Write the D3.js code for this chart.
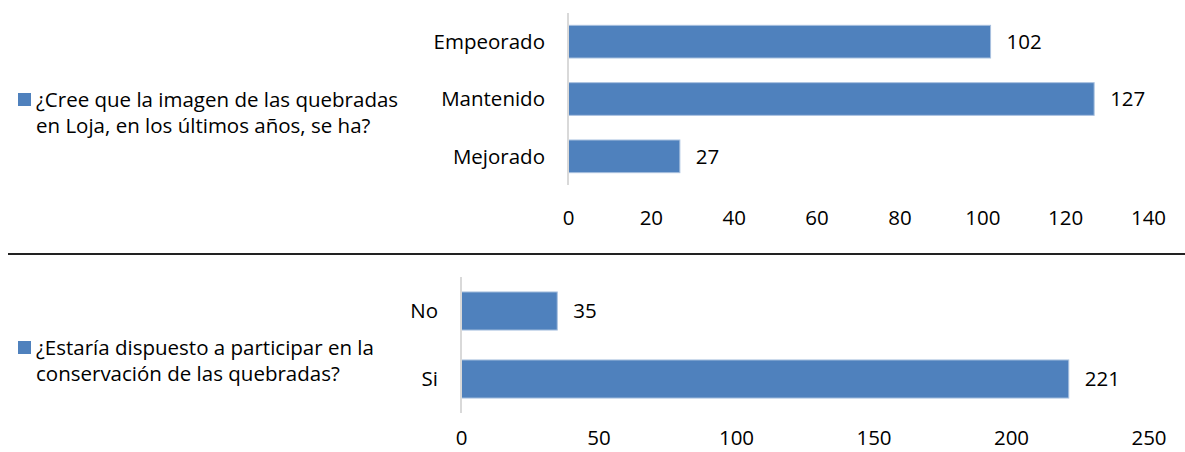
<!DOCTYPE html>
<html><head><meta charset="utf-8">
<script src="https://cdn.jsdelivr.net/npm/d3@7"></script>
<style>
html,body{margin:0;padding:0;background:#fff;}
svg text{font-family:"Open Sans","Noto Sans",sans-serif;fill:#000;}
</style></head>
<body><svg id="c" width="1185" height="452"></svg>
<script>
// Chart 1
const cats1 = ["Empeorado", "Mantenido", "Mejorado"];
const vals1 = [102, 127, 27];
const ticks1 = [0, 20, 40, 60, 80, 100, 120, 140];
const legend1 = ["¿Cree que la imagen de las quebradas", "en Loja, en los últimos años, se ha?"];
// Chart 2
const cats2 = ["No", "Si"];
const vals2 = [35, 221];
const ticks2 = [0, 50, 100, 150, 200, 250];
const legend2 = ["¿Estaría dispuesto a participar en la", "conservación de las quebradas?"];

const svg = d3.select("#c");
const BAR = "#4F81BD", BAR_STROKE = "#A9C1DF", AXIS = "#D9D9D9";
const FS = 20.5;

function panel(cfg) {
  const x = d3.scaleLinear().domain([0, cfg.max]).range([cfg.x0, cfg.x1]);
  const y = d3.scaleBand().domain(cfg.cats).range([cfg.y0, cfg.y1]).paddingInner(cfg.pad).paddingOuter(cfg.pad / 2);
  const g = svg.append("g");
  const rows = cfg.cats.map((c, i) => ({c, v: cfg.vals[i]}));
  g.selectAll("rect.bar").data(rows).enter()
    .append("rect").attr("class", "bar")
    .attr("x", x(0)).attr("y", d => y(d.c))
    .attr("width", d => x(d.v) - x(0)).attr("height", y.bandwidth())
    .attr("fill", BAR).attr("stroke", BAR_STROKE).attr("stroke-width", 1);
  g.selectAll("text.val").data(rows).enter()
    .append("text").attr("class", "val")
    .attr("x", d => x(d.v) + 16).attr("y", d => y(d.c) + y.bandwidth() / 2)
    .attr("dy", "0.35em").attr("font-size", FS).text(d => d.v);
  g.append("line").attr("x1", x(0)).attr("x2", x(0)).attr("y1", cfg.y0).attr("y2", cfg.y1)
    .attr("stroke", AXIS).attr("stroke-width", 2);
  g.selectAll("text.cat").data(cfg.cats).enter().append("text").attr("class", "cat")
    .attr("x", x(0) - 23).attr("y", d => y(d) + y.bandwidth() / 2)
    .attr("dy", "0.35em").attr("text-anchor", "end").attr("font-size", FS).text(d => d);
  const ax = g.append("g").attr("transform", `translate(0,${cfg.tickY})`)
    .call(d3.axisBottom(x).tickValues(cfg.ticks).tickSize(0).tickPadding(0));
  ax.select(".domain").remove();
  ax.selectAll("text").attr("font-size", FS).attr("font-family", "Open Sans, Noto Sans, sans-serif").attr("fill", "#000").attr("dy", "0.35em");
  const lg = g.append("g");
  lg.append("rect").attr("x", cfg.lx).attr("y", cfg.ly - 14).attr("width", 13).attr("height", 13).attr("fill", BAR);
  lg.selectAll("text").data(cfg.legend).enter().append("text")
    .attr("x", cfg.lx + 18)
    .attr("y", (d, i) => cfg.ly + i * 26).attr("font-size", FS).text(d => d);
}

panel({cats: cats1, vals: vals1, max: 140, ticks: ticks1, x0: 568, x1: 1148, y0: 13, y1: 185, pad: 0.43, tickY: 218, legend: legend1, lx: 18, ly: 107});
panel({cats: cats2, vals: vals2, max: 250, ticks: ticks2, x0: 461, x1: 1148.5, y0: 277, y1: 413, pad: 0.44, tickY: 438, legend: legend2, lx: 18, ly: 355});

svg.append("line").attr("x1", 8).attr("x2", 1185).attr("y1", 254).attr("y2", 254)
  .attr("stroke", "#222").attr("stroke-width", 2);
</script></body></html>
